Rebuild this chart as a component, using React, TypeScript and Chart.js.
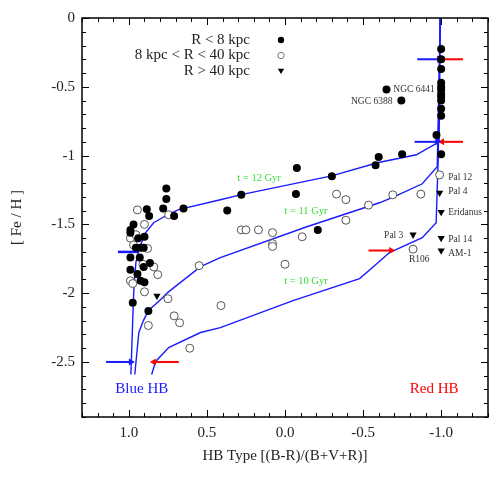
import React, { useEffect, useRef } from 'react';
import { Chart, registerables } from 'chart.js';

Chart.register(...registerables);

// ---- Data ----
// R < 8 kpc (filled circles)
const innerX = [-1.0, -1.0, -1.0, -1.0, -1.0, -1.0, -1.0, -1.0, -1.0, -1.0, -1.0, -0.97, -1.0,
  -0.65, -0.745, -0.75, -0.60, -0.58, -0.30, -0.076, -0.07, 0.28, 0.37, 0.65, -0.21,
  0.76, 0.76, 0.78, 0.885, 0.87, 0.71, 0.97, 0.99, 0.99, 0.94, 0.90, 0.955, 0.925, 0.905,
  0.99, 0.93, 0.865, 0.905, 0.99, 0.945, 0.925, 0.90, 0.975, 0.875];
const innerY = [-0.225, -0.30, -0.37, -0.47, -0.50, -0.52, -0.55, -0.57, -0.60, -0.66, -0.71, -0.85, -0.99,
  -0.52, -0.60, -0.99, -1.01, -1.07, -1.15, -1.09, -1.28, -1.285, -1.40, -1.385, -1.54,
  -1.24, -1.315, -1.385, -1.39, -1.44, -1.44, -1.50, -1.54, -1.56, -1.60, -1.59, -1.67, -1.67, -1.67,
  -1.74, -1.74, -1.78, -1.81, -1.83, -1.86, -1.91, -1.92, -2.07, -2.13];

// 8 kpc < R < 40 kpc (open circles)
const midX = [0.945, 0.745, 0.90, 0.99, 0.955, 0.97, 0.88, 0.91, 0.84, 0.815, 0.99, 0.975, 0.90, 0.75,
  0.55, 0.71, 0.675, 0.875, 0.61, 0.41, 0.28, 0.25, 0.17, 0.08, 0.08, 0.08, -0.11, 0.0,
  -0.33, -0.39, -0.535, -0.39, -0.69, -0.87, -0.99, -0.82];
const midY = [-1.395, -1.43, -1.50, -1.60, -1.575, -1.65, -1.675, -1.79, -1.81, -1.865, -1.91, -1.93, -1.99, -2.04,
  -1.80, -2.165, -2.215, -2.235, -2.40, -2.09, -1.54, -1.54, -1.54, -1.56, -1.64, -1.66, -1.59, -1.79,
  -1.28, -1.32, -1.36, -1.47, -1.285, -1.28, -1.14, -1.68];

// R > 40 kpc (triangles)
const outerX = [0.82, -0.99, -1.0, -0.82, -1.0, -1.0];
const outerY = [-2.02, -1.27, -1.41, -1.575, -1.60, -1.69];

// Isochrones
const iso12X = [0.987, 0.975, 0.968, 0.955, 0.930, 0.892, 0.841, 0.752, 0.682, 0.414, 0.280, -0.299, -0.592, -0.841, -0.987, -0.994];
const iso12Y = [-2.591, -2.192, -1.974, -1.778, -1.662, -1.560, -1.488, -1.430, -1.393, -1.321, -1.284, -1.147, -1.052, -0.994, -0.900, 0];
const iso11X = [0.962, 0.936, 0.904, 0.873, 0.796, 0.752, 0.541, 0.414, -0.140, -0.605, -0.701, -0.879, -0.975, -0.994];
const iso11Y = [-2.591, -2.286, -2.192, -2.126, -2.046, -1.996, -1.807, -1.742, -1.517, -1.343, -1.299, -1.205, -1.081, 0];
const iso10X = [0.854, 0.828, 0.745, 0.541, 0.414, -0.051, -0.478, -0.573, -0.669, -0.879, -0.968, -0.981, -0.994];
const iso10Y = [-2.591, -2.496, -2.395, -2.286, -2.250, -2.054, -1.894, -1.800, -1.705, -1.597, -1.488, -1.030, 0];

// Arrows: start x, end x, y, colour, head direction on screen (1 right, -1 left, 0 none)
const arrowX0 = [1.146, 0.68, -0.847, -1.14, -0.83, -1.14, -0.535, 1.07];
const arrowX1 = [0.987, 0.84, -0.987, -1.006, -0.975, -1.006, -0.68, 0.94];
const arrowY = [-2.5, -2.5, -0.30, -0.30, -0.90, -0.90, -1.69, -1.70];
const arrowColor = ['#1a1aff', '#ff0000', '#1a1aff', '#ff0000', '#1a1aff', '#ff0000', '#ff0000', '#1a1aff'];
const arrowHead = [1, -1, 1, -1, 1, -1, 1, 0];

// Annotations
const noteText = ['NGC 6441', 'NGC 6388', 'Pal 12', 'Pal 4', 'Eridanus', 'Pal 3', 'Pal 14', 'AM-1', 'R106'];
const noteX = [-0.694, -0.688, -1.045, -1.045, -1.045, -0.758, -1.045, -1.045, -0.86];
const noteY = [-0.52, -0.61, -1.16, -1.263, -1.415, -1.582, -1.611, -1.713, -1.756];
const noteAlign = ['left', 'right', 'left', 'left', 'left', 'right', 'left', 'left', 'center'];

const ageText = ['t = 12 Gyr', 't = 11 Gyr', 't = 10 Gyr'];
const ageX = [0.166, -0.134, -0.134];
const ageY = [-1.168, -1.408, -1.916];

const hbText = ['Blue HB', 'Red HB'];
const hbX = [0.917, -0.955];
const hbY = [-2.70, -2.70];
const hbColor = ['#1a1aff', '#ff0000'];

const legendLabels = ['R < 8 kpc', '8 kpc < R < 40 kpc', 'R > 40 kpc'];

const X_MIN = -1.3, X_MAX = 1.3, Y_MIN = -2.9, Y_MAX = 0;
const SERIF = '"Liberation Serif", "Times New Roman", serif';

const pts = (xs: number[], ys: number[]) => xs.map((x, i) => ({ x, y: ys[i] }));

const decorPlugin = {
  id: 'decor',
  afterDatasetsDraw(chart: any) {
    const { ctx, chartArea: a, scales } = chart;
    const sx = scales.x, sy = scales.y;
    ctx.save();
    // frame
    ctx.strokeStyle = '#000';
    ctx.lineWidth = 1.5;
    ctx.strokeRect(a.left, a.top, a.right - a.left, a.bottom - a.top);
    // ticks (inward)
    ctx.lineWidth = 1;
    ctx.beginPath();
    for (let v = Math.round(X_MIN * 10); v <= Math.round(X_MAX * 10); v++) {
      const px = Math.round(sx.getPixelForValue(v / 10)) + 0.5;
      const len = v % 5 === 0 ? 7 : 4;
      ctx.moveTo(px, a.bottom); ctx.lineTo(px, a.bottom - len);
      ctx.moveTo(px, a.top); ctx.lineTo(px, a.top + len);
    }
    for (let v = Math.round(Y_MIN * 10); v <= Math.round(Y_MAX * 10); v++) {
      const py = Math.round(sy.getPixelForValue(v / 10)) + 0.5;
      const len = v % 5 === 0 ? 7 : 4;
      ctx.moveTo(a.left, py); ctx.lineTo(a.left + len, py);
      ctx.moveTo(a.right, py); ctx.lineTo(a.right - len, py);
    }
    ctx.stroke();

    // annotations
    ctx.textBaseline = 'middle';
    ctx.fillStyle = '#333';
    ctx.font = `9.5px ${SERIF}`;
    noteText.forEach((t, i) => {
      ctx.textAlign = noteAlign[i] as CanvasTextAlign;
      ctx.fillText(t, sx.getPixelForValue(noteX[i]), sy.getPixelForValue(noteY[i]));
    });
    ctx.fillStyle = '#33dd33';
    ctx.font = `10.5px ${SERIF}`;
    ctx.textAlign = 'center';
    ageText.forEach((t, i) => {
      ctx.fillText(t, sx.getPixelForValue(ageX[i]), sy.getPixelForValue(ageY[i]));
    });
    ctx.font = `15px ${SERIF}`;
    hbText.forEach((t, i) => {
      ctx.fillStyle = hbColor[i];
      ctx.fillText(t, sx.getPixelForValue(hbX[i]), sy.getPixelForValue(hbY[i]));
    });

    // legend
    const tx = a.left + 168;
    const mx = a.left + 199;
    const rows = [a.top + 22, a.top + 37.5, a.top + 53];
    ctx.font = `15px ${SERIF}`;
    ctx.textAlign = 'right';
    ctx.fillStyle = '#222';
    legendLabels.forEach((t, i) => ctx.fillText(t, tx, rows[i]));
    // symbols
    ctx.fillStyle = '#000';
    ctx.beginPath(); ctx.arc(mx, rows[0], 3.2, 0, Math.PI * 2); ctx.fill();
    ctx.strokeStyle = '#555'; ctx.lineWidth = 0.8; ctx.fillStyle = '#fff';
    ctx.beginPath(); ctx.arc(mx, rows[1], 3.2, 0, Math.PI * 2); ctx.fill(); ctx.stroke();
    ctx.fillStyle = '#000';
    ctx.beginPath();
    ctx.moveTo(mx - 3.2, rows[2] - 2.2); ctx.lineTo(mx + 3.2, rows[2] - 2.2); ctx.lineTo(mx, rows[2] + 3);
    ctx.closePath(); ctx.fill();
    ctx.restore();
  },
};

export default function App() {
  const ref = useRef<HTMLCanvasElement>(null);
  useEffect(() => {
    if (!ref.current) return;
    const lineDs = (xs: number[], ys: number[], color: string, width: number, order: number) => ({
      data: pts(xs, ys), showLine: true, borderColor: color, borderWidth: width,
      pointRadius: 0, pointHoverRadius: 0, fill: false, tension: 0, order,
    });
    const arrowSets = arrowX0.map((x0, i) => ({
      data: [{ x: x0, y: arrowY[i] }, { x: arrowX1[i], y: arrowY[i] }],
      showLine: true,
      borderColor: arrowColor[i],
      backgroundColor: arrowColor[i],
      borderWidth: arrowHead[i] === 0 ? 2.5 : 2,
      pointRadius: [0, arrowHead[i] === 0 ? 0 : 4],
      pointStyle: 'triangle',
      rotation: arrowHead[i] === 1 ? 90 : -90,
      pointBorderWidth: 0,
      order: 5,
    }));
    const chart = new Chart(ref.current, {
      type: 'scatter',
      data: {
        datasets: [
          {
            label: legendLabels[0], data: pts(innerX, innerY), pointRadius: 4,
            backgroundColor: '#000', borderColor: '#000', pointBorderWidth: 0, order: 1,
          } as any,
          {
            label: legendLabels[1], data: pts(midX, midY), pointRadius: 4,
            backgroundColor: '#fff', borderColor: '#555', pointBorderWidth: 1, order: 2,
          },
          {
            label: legendLabels[2], data: pts(outerX, outerY), pointRadius: 4.2, pointStyle: 'triangle',
            rotation: 180, backgroundColor: '#000', borderColor: '#000', pointBorderWidth: 0, order: 0,
          },
          lineDs(iso12X, iso12Y, '#1a1aff', 1.4, 10),
          lineDs(iso11X, iso11Y, '#1a1aff', 1.4, 10),
          lineDs(iso10X, iso10Y, '#1a1aff', 1.4, 10),
          ...arrowSets,
        ],
      },
      options: {
        animation: false,
        responsive: false,
        events: [],
        layout: { padding: { left: 0, right: 15, top: 18, bottom: 0 }, autoPadding: false },
        plugins: { legend: { display: false }, tooltip: { enabled: false } },
        scales: {
          x: {
            type: 'linear', reverse: true, min: X_MIN, max: X_MAX,
            grid: { display: false, drawTicks: false },
            border: { display: false },
            ticks: {
              stepSize: 0.5, includeBounds: false, padding: 7, color: '#222',
              font: { family: SERIF, size: 15 }, maxRotation: 0,
              callback: (v: any) => (Math.round(Number(v) * 10) / 10).toFixed(1),
            },
            title: {
              display: true, text: 'HB Type [(B-R)/(B+V+R)]', color: '#222',
              font: { family: SERIF, size: 15 }, padding: { top: 0, bottom: 19 },
            },
            afterFit: (s: any) => { s.height = 67; },
          },
          y: {
            type: 'linear', min: Y_MIN, max: Y_MAX,
            grid: { display: false, drawTicks: false },
            border: { display: false },
            ticks: {
              stepSize: 0.5, includeBounds: false, padding: 7, color: '#222',
              font: { family: SERIF, size: 15 },
              callback: (v: any) => { const n = Math.round(Number(v) * 10) / 10; return n === 0 ? '0' : String(n); },
            },
            title: {
              display: true, text: '[ Fe / H ]', color: '#222',
              font: { family: SERIF, size: 15 }, padding: { top: 8, bottom: 0 },
            },
            afterFit: (s: any) => { s.width = 82; },
          },
        },
      } as any,
      plugins: [decorPlugin],
    });
    return () => chart.destroy();
  }, []);
  return (
    <div style={{ position: 'fixed', left: 0, top: 0, width: 503, height: 484, background: '#fff' }}>
      <canvas ref={ref} width={503} height={484} style={{ width: 503, height: 484 }} />
    </div>
  );
}
